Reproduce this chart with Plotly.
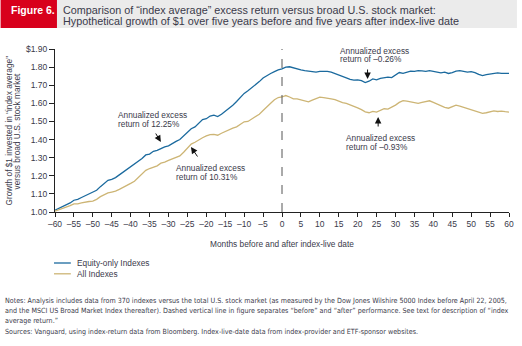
import plotly.graph_objects as go

months = list(range(-60, 61))

equity_only = [
    1.010, 1.020, 1.030, 1.040, 1.050, 1.065, 1.070, 1.080, 1.090, 1.100,
    1.110, 1.120, 1.140, 1.160, 1.175, 1.180, 1.190, 1.205, 1.220, 1.235,
    1.250, 1.260, 1.275, 1.295, 1.315, 1.320, 1.335, 1.340, 1.350, 1.360,
    1.365, 1.380, 1.390, 1.400, 1.420, 1.440, 1.460, 1.470, 1.490, 1.510,
    1.515, 1.530, 1.535, 1.527, 1.540, 1.555, 1.570, 1.590, 1.610, 1.635,
    1.655, 1.670, 1.685, 1.700, 1.720, 1.740, 1.755, 1.765, 1.775, 1.785,
    1.790, 1.800, 1.802, 1.795, 1.788, 1.785, 1.780, 1.778, 1.775, 1.772,
    1.776, 1.777, 1.776, 1.772, 1.765, 1.757, 1.750, 1.740, 1.732, 1.728,
    1.730, 1.725, 1.715, 1.722, 1.735, 1.730, 1.738, 1.743, 1.745, 1.742,
    1.755, 1.770, 1.765, 1.772, 1.778, 1.776, 1.780, 1.779, 1.777, 1.781,
    1.778, 1.774, 1.768, 1.772, 1.765, 1.770, 1.778, 1.781, 1.776, 1.772,
    1.775, 1.770, 1.760, 1.753, 1.758, 1.760, 1.762, 1.768, 1.765, 1.767,
    1.765,
]

all_indexes = [
    1.005, 1.012, 1.020, 1.025, 1.035, 1.045, 1.045, 1.050, 1.055, 1.058,
    1.060, 1.070, 1.085, 1.095, 1.105, 1.110, 1.115, 1.125, 1.135, 1.145,
    1.158, 1.170, 1.190, 1.210, 1.230, 1.240, 1.247, 1.255, 1.270, 1.275,
    1.285, 1.293, 1.300, 1.310, 1.330, 1.350, 1.375, 1.385, 1.400, 1.410,
    1.420, 1.427, 1.428, 1.424, 1.435, 1.445, 1.455, 1.463, 1.470, 1.485,
    1.498, 1.500, 1.512, 1.525, 1.540, 1.560, 1.578, 1.600, 1.620, 1.632,
    1.635, 1.643, 1.635, 1.625, 1.625, 1.618, 1.612, 1.608, 1.618, 1.628,
    1.634, 1.632, 1.630, 1.625, 1.620, 1.610, 1.604, 1.600, 1.593, 1.585,
    1.575, 1.565, 1.553, 1.548, 1.555, 1.552, 1.562, 1.570, 1.568, 1.578,
    1.590, 1.605, 1.615, 1.612, 1.607, 1.603, 1.600, 1.605, 1.610, 1.614,
    1.605, 1.595, 1.585, 1.578, 1.573, 1.583, 1.590, 1.585, 1.578, 1.570,
    1.563, 1.558, 1.548, 1.545, 1.548, 1.552, 1.558, 1.555, 1.557, 1.554,
    1.552,
]

series_names = ["Equity-only Indexes", "All Indexes"]
series_colors = ["#1b6a9e", "#cdb575"]

y_tickvals = [1.00, 1.10, 1.20, 1.30, 1.40, 1.50, 1.60, 1.70, 1.80, 1.90]
y_ticktext = ["1.00", "1.10", "1.20", "1.30", "1.40", "1.50", "1.60", "1.70", "1.80", "$1.90"]
x_tickvals = list(range(-60, 61, 5))
x_ticktext = [("\u2013" + str(-v)) if v < 0 else str(v) for v in x_tickvals]

title_lines = [
    "Comparison of \u201cindex average\u201d excess return versus broad U.S. stock market:",
    "Hypothetical growth of $1 over five years before and five years after index-live date",
]
notes_lines = [
    "Notes: Analysis includes data from 370 indexes versus the total U.S. stock market (as measured by the Dow Jones Wilshire 5000 Index before April 22, 2005,",
    "and the MSCI US Broad Market Index thereafter). Dashed vertical line in figure separates \u201cbefore\u201d and \u201cafter\u201d performance. See text for description of \u201cindex",
    "average return.\u201d",
]
sources_line = "Sources: Vanguard, using index-return data from Bloomberg. Index-live-date data from index-provider and ETF-sponsor websites."

W, H = 522, 346
L, R, T, B = 55, 8, 49, 134
PW, PH = W - L - R, H - T - B


def px(x):
    return (x - L) / PW


def py(y):
    return (H - B - y) / PH


fig = go.Figure()
for name, vals, col in zip(series_names, [equity_only, all_indexes], series_colors):
    fig.add_trace(go.Scatter(x=months, y=vals, mode="lines", name=name,
                             line=dict(color=col, width=1.3), showlegend=False))

TXT = "#3a3a4a"
FONT = "Liberation Sans, Arial, sans-serif"
NARROW = "DejaVu Sans Condensed, Liberation Sans Narrow, sans-serif"

shapes = [
    dict(type="rect", xref="paper", yref="paper", x0=px(0), x1=px(57), y0=py(28), y1=py(0),
         fillcolor="#d8001c", line=dict(width=0), layer="below"),
    dict(type="rect", xref="paper", yref="paper", x0=px(57), x1=px(522), y0=py(28), y1=py(0),
         fillcolor="#ebebeb", line=dict(width=0), layer="below"),
    dict(type="line", xref="x", yref="paper", x0=0, x1=0, y0=0, y1=1,
         line=dict(color="#555555", width=1, dash="dash")),
]

annotations = [
    dict(text="<b>Figure 6.</b>", xref="paper", yref="paper", x=px(8), y=py(10),
         xanchor="left", yanchor="middle", showarrow=False,
         font=dict(family=FONT, size=10.5, color="white")),
]
for i, line in enumerate(title_lines):
    annotations.append(dict(text=line, xref="paper", yref="paper", x=px(61), y=py(10 + 11 * i),
                            xanchor="left", yanchor="middle", showarrow=False,
                            font=dict(family=FONT, size=10.8, color=TXT)))

# y-axis title (two rotated lines)
for xpos, line in [(8, "Growth of $1 invested in \u201cindex average\u201d"),
                   (17, "versus broad U.S. stock market")]:
    annotations.append(dict(text=line, xref="paper", yref="paper", x=px(xpos), y=py(131),
                            xanchor="center", yanchor="middle", textangle=-90, showarrow=False,
                            font=dict(family=FONT, size=8.3, color=TXT)))

annotations.append(dict(text="Months before and after index-live date", xref="paper", yref="paper",
                        x=0.5, y=py(244), xanchor="center", yanchor="middle", showarrow=False,
                        font=dict(family=FONT, size=8.3, color=TXT)))

# callout texts
callouts = [
    (117, 115, "Annualized excess", "return of 12.25%"),
    (175, 168, "Annualized excess", "return of 10.31%"),
    (341, 51, "Annualized excess", "return of \u20130.26%"),
    (347, 138, "Annualized excess", "return of \u20130.93%"),
]
for x0, y0, l1, l2 in callouts:
    for j, l in enumerate([l1, l2]):
        annotations.append(dict(text=l, xref="paper", yref="paper", x=px(x0), y=py(y0 + 8.5 * j),
                                xanchor="left", yanchor="middle", showarrow=False,
                                font=dict(family=FONT, size=8.3, color=TXT)))

# arrows (head position, tail offset in px)
arrows = [(162, 142, -6, -10), (192.5, 147, 7.5, 11), (371, 79, 0, -11), (381.7, 117, 0, 11)]
for hx, hy, ax, ay in arrows:
    annotations.append(dict(text="", xref="paper", yref="paper", x=px(hx), y=py(hy),
                            ax=ax, ay=ay, showarrow=True, arrowhead=2, arrowsize=1.3,
                            arrowwidth=1, arrowcolor="#111111"))

# legend (manual)
for i, (name, col) in enumerate(zip(series_names, series_colors)):
    yy = 263 + 10.8 * i
    shapes.append(dict(type="line", xref="paper", yref="paper", x0=px(54), x1=px(71),
                       y0=py(yy), y1=py(yy), line=dict(color=col, width=1.3)))
    annotations.append(dict(text=name, xref="paper", yref="paper", x=px(75), y=py(yy),
                            xanchor="left", yanchor="middle", showarrow=False,
                            font=dict(family=FONT, size=8.3, color=TXT)))

# notes
for i, line in enumerate(notes_lines):
    annotations.append(dict(text=line, xref="paper", yref="paper", x=px(2), y=py(300.5 + 10 * i),
                            xanchor="left", yanchor="middle", showarrow=False,
                            font=dict(family=NARROW, size=7.1, color=TXT)))
annotations.append(dict(text=sources_line, xref="paper", yref="paper", x=px(2), y=py(331.5),
                        xanchor="left", yanchor="middle", showarrow=False,
                        font=dict(family=NARROW, size=7.1, color=TXT)))

fig.update_layout(
    width=W, height=H,
    margin=dict(l=L, r=R, t=T, b=B, pad=0),
    paper_bgcolor="white", plot_bgcolor="white",
    showlegend=False,
    shapes=shapes, annotations=annotations,
    xaxis=dict(range=[-60, 60], tickvals=x_tickvals, ticktext=x_ticktext,
               showgrid=False, zeroline=False, showline=True, linecolor="#222222", linewidth=1.2,
               ticks="outside", ticklen=4, tickcolor="#222222", tickwidth=1,
               tickfont=dict(family=FONT, size=8.5, color=TXT)),
    yaxis=dict(range=[1.0, 1.9], tickvals=y_tickvals, ticktext=y_ticktext,
               showgrid=False, zeroline=False, showline=True, linecolor="#222222", linewidth=1.2,
               ticks="outside", ticklen=5, tickcolor="#222222", tickwidth=1,
               tickfont=dict(family=FONT, size=8.5, color=TXT)),
)

fig.write_html("out.html")
